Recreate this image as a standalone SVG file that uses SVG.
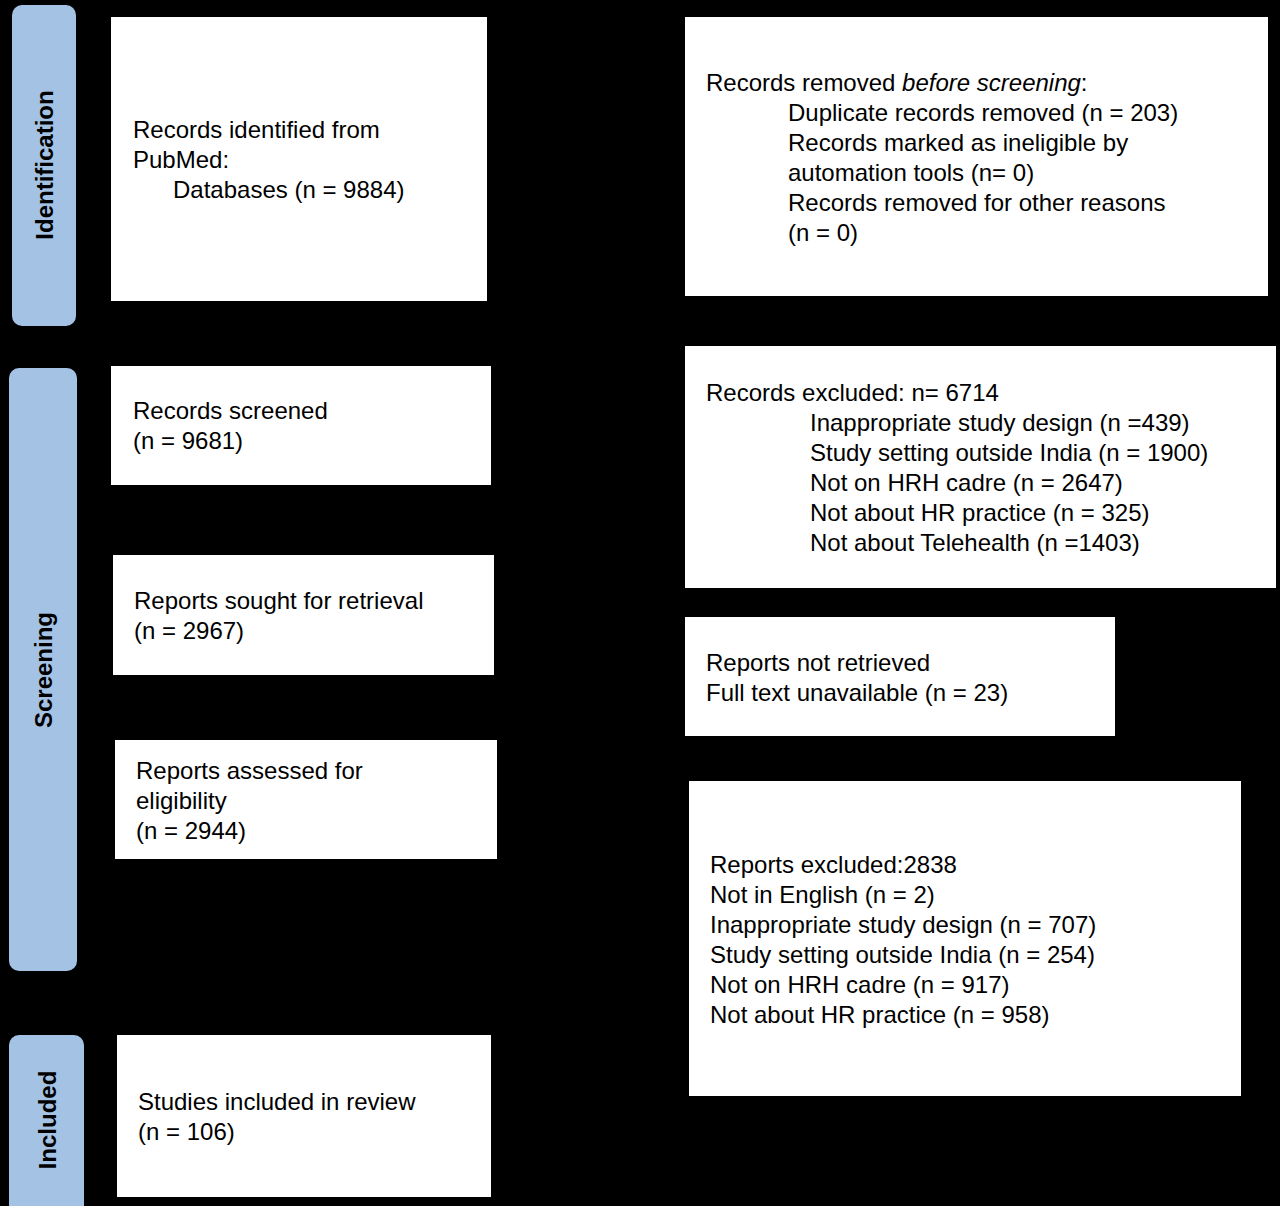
<svg xmlns="http://www.w3.org/2000/svg" width="1280" height="1206" viewBox="0 0 1280 1206">
<defs>
<style>
.b{fill:#fff;stroke:none}
.s{fill:#a4c2e4}
t,text{font-family:"Liberation Sans",Arial,sans-serif;font-size:24px;fill:#000}
.v{font-weight:bold;font-size:24px}
.c{stroke:#000;stroke-width:2;fill:none}
</style>
<marker id="a" markerWidth="10" markerHeight="10" refX="9" refY="5" orient="auto"><path d="M0,0L10,5L0,10z" fill="#000"/></marker>
</defs>
<rect width="1280" height="1206" fill="#000"/>
<g id="bar-identification"><rect class="s" x="12" y="5" width="64" height="321" rx="10"/><text class="v" transform="translate(53,165) rotate(-90)" text-anchor="middle">Identification</text></g>
<g id="bar-screening"><rect class="s" x="9" y="368" width="68" height="603" rx="10"/><text class="v" transform="translate(52,670) rotate(-90)" text-anchor="middle">Screening</text></g>
<g id="bar-included"><rect class="s" x="9" y="1035" width="75" height="180" rx="10"/><text class="v" transform="translate(56,1120) rotate(-90)" text-anchor="middle">Included</text></g>
<g id="connectors">
<path class="c" marker-end="url(#a)" d="M487,159H685"/>
<path class="c" marker-end="url(#a)" d="M299,301V366"/>
<path class="c" marker-end="url(#a)" d="M491,426H685"/>
<path class="c" marker-end="url(#a)" d="M301,485V555"/>
<path class="c" marker-end="url(#a)" d="M494,647H685"/>
<path class="c" marker-end="url(#a)" d="M303,675V740"/>
<path class="c" marker-end="url(#a)" d="M497,800H689"/>
<path class="c" marker-end="url(#a)" d="M305,859V1035"/>
</g>
<g id="n1"><rect class="b" x="111" y="17" width="376" height="284"/><text x="133" y="138">Records identified from</text><text x="133" y="168">PubMed:</text><text x="173" y="198">Databases (n = 9884)</text></g>
<g id="n2"><rect class="b" x="685" y="17" width="583" height="279"/><text x="706" y="91">Records removed <tspan font-style="italic">before screening</tspan>:</text><text x="788" y="121">Duplicate records removed  (n = 203)</text><text x="788" y="151">Records marked as ineligible by</text><text x="788" y="181">automation tools (n= 0)</text><text x="788" y="211">Records removed for other reasons</text><text x="788" y="241">(n = 0)</text></g>
<g id="n3"><rect class="b" x="111" y="366" width="380" height="119"/><text x="133" y="419">Records screened</text><text x="133" y="449">(n = 9681)</text></g>
<g id="n4"><rect class="b" x="685" y="346" width="591" height="242"/><text x="706" y="401">Records excluded: n= 6714</text><text x="810" y="431">Inappropriate study design (n =439)</text><text x="810" y="461">Study setting outside India (n = 1900)</text><text x="810" y="491">Not on HRH cadre (n = 2647)</text><text x="810" y="521">Not about HR practice (n = 325)</text><text x="810" y="551">Not about Telehealth (n =1403)</text></g>
<g id="n5"><rect class="b" x="113" y="555" width="381" height="120"/><text x="134" y="609">Reports sought for retrieval</text><text x="134" y="639">(n = 2967)</text></g>
<g id="n6"><rect class="b" x="685" y="617" width="430" height="119"/><text x="706" y="671">Reports not retrieved</text><text x="706" y="701">Full text unavailable (n = 23)</text></g>
<g id="n7"><rect class="b" x="115" y="740" width="382" height="119"/><text x="136" y="779">Reports assessed for</text><text x="136" y="809">eligibility</text><text x="136" y="839">(n = 2944)</text></g>
<g id="n8"><rect class="b" x="689" y="781" width="552" height="315"/><text x="710" y="873">Reports excluded:2838</text><text x="710" y="903">Not in English (n = 2)</text><text x="710" y="933">Inappropriate study design (n = 707)</text><text x="710" y="963">Study setting outside India (n = 254)</text><text x="710" y="993">Not on HRH cadre (n = 917)</text><text x="710" y="1023">Not about HR practice (n = 958)</text></g>
<g id="n9"><rect class="b" x="117" y="1035" width="374" height="162"/><text x="138" y="1110">Studies included in review</text><text x="138" y="1140">(n = 106)</text></g>
</svg>
